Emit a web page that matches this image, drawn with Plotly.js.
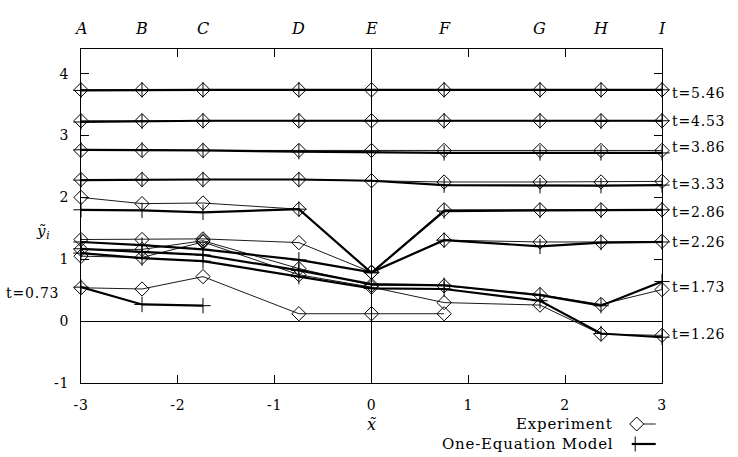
<!DOCTYPE html>
<html>
<head>
<meta charset="utf-8">
<script src="https://cdn.plot.ly/plotly-3.0.1.min.js"></script>
<style>html,body{margin:0;padding:0;background:#fff;} svg text{letter-spacing:0.8px;}</style>
</head>
<body>
<div id="chart" style="width:738px;height:457px;"></div>
<script>
// Station positions along x and their letters
const stations = [-3, -2.37, -1.74, -0.75, 0, 0.75, 1.74, 2.37, 3];
const stationLabels = ['A', 'B', 'C', 'D', 'E', 'F', 'G', 'H', 'I'];

// Time labels
const times = ['5.46', '4.53', '3.86', '3.33', '2.86', '2.26', '1.73', '1.26', '0.73'];
const timeLabelY = [3.69, 3.24, 2.81, 2.22, 1.76, 1.28, 0.56, -0.21, 0.46];

// Experiment (diamonds, thin line)
const exp546 = [3.74, 3.74, 3.74, 3.74, 3.74, 3.74, 3.74, 3.74, 3.74];
const exp453 = [3.24, 3.24, 3.24, 3.24, 3.24, 3.24, 3.24, 3.24, 3.24];
const exp386 = [2.76, 2.76, 2.76, 2.76, 2.76, 2.76, 2.76, 2.76, 2.76];
const exp333 = [2.29, 2.29, 2.29, 2.29, 2.27, 2.25, 2.25, 2.25, 2.26];
const exp286 = [2.0, 1.9, 1.91, 1.81, 0.79, 1.8, 1.8, 1.8, 1.8];
const exp226 = [1.32, 1.32, 1.33, 1.27, 0.79, 1.31, 1.28, 1.28, 1.29];
const exp173 = [1.16, 1.16, 1.30, 0.85, 0.58, 0.57, 0.43, 0.27, 0.51];
const exp126 = [1.05, 1.03, 1.28, 0.75, 0.55, 0.30, 0.26, -0.21, -0.23];
const exp073 = [0.54, 0.52, 0.72, 0.12, 0.12, 0.12, null, null, null];

// One-Equation Model (plus markers, thick line)
const mod546 = [3.73, 3.74, 3.74, 3.74, 3.74, 3.74, 3.74, 3.74, 3.74];
const mod453 = [3.22, 3.23, 3.24, 3.24, 3.24, 3.24, 3.24, 3.23, 3.24];
const mod386 = [2.77, 2.77, 2.76, 2.74, 2.73, 2.72, 2.72, 2.72, 2.72];
const mod333 = [2.28, 2.29, 2.29, 2.29, 2.27, 2.20, 2.19, 2.19, 2.20];
const mod286 = [1.8, 1.79, 1.76, 1.81, 0.78, 1.78, 1.79, 1.79, 1.8];
const mod226 = [1.28, 1.23, 1.16, 0.99, 0.79, 1.31, 1.21, 1.27, 1.28];
const mod173 = [1.17, 1.12, 1.07, 0.82, 0.60, 0.58, 0.42, 0.25, 0.64];
const mod126 = [1.10, 1.02, 0.97, 0.72, 0.53, 0.52, 0.33, -0.20, -0.26];
const mod073 = [0.55, 0.27, 0.25, null, null, null, null, null, null];

const expSeries = [exp546, exp453, exp386, exp333, exp286, exp226, exp173, exp126, exp073];
const modSeries = [mod546, mod453, mod386, mod333, mod286, mod226, mod173, mod126, mod073];

const xTickVals = [-3, -2, -1, 0, 1, 2, 3];
const xTickText = ['-3', '-2', '-1', '0', '1', '2', '3'];
const yTickVals = [-1, 0, 1, 2, 3, 4];
const yTickText = ['-1', '0', '1', '2', '3', '4'];

const legendNames = ['Experiment', 'One-Equation Model'];

const serif = 'DejaVu Serif, Liberation Serif, serif';

const traces = [];
modSeries.forEach((ys, i) => {
  traces.push({
    x: stations, y: ys, type: 'scatter', mode: 'lines+markers',
    name: legendNames[1] + ' t=' + times[i], showlegend: false, cliponaxis: false,
    line: {color: '#000', width: 2.2},
    marker: {symbol: 'cross-thin-open', size: 11, color: '#000', line: {color: '#000', width: 1}}
  });
});
expSeries.forEach((ys, i) => {
  traces.push({
    x: stations, y: ys, type: 'scatter', mode: 'lines+markers',
    name: legendNames[0] + ' t=' + times[i], showlegend: false, cliponaxis: false,
    line: {color: '#000', width: 0.9},
    marker: {symbol: 'diamond-open', size: 11, color: '#000', line: {color: '#000', width: 1}}
  });
});

const annotations = [];
stations.forEach((sx, i) => {
  annotations.push({x: sx, xref: 'x', y: 1.096, yref: 'paper', text: '<i>' + stationLabels[i] + '</i>',
    showarrow: false, font: {family: serif, size: 16, color: '#000'}});
});
times.forEach((t, i) => {
  const left = (t === '0.73');
  annotations.push({
    x: left ? -0.034 : 1.013, xref: 'paper', y: timeLabelY[i], yref: 'y',
    xanchor: left ? 'right' : 'left', text: 't=' + t, showarrow: false,
    font: {family: serif, size: 14, color: '#000'}
  });
});
annotations.push({x: -0.05, xref: 'paper', y: 1.45, yref: 'y', xanchor: 'right',
  text: '<i>ỹ</i><sub><i>i</i></sub>', showarrow: false, font: {family: serif, size: 15, color: '#000'}});
annotations.push({x: 0, xref: 'x', y: -0.158, yref: 'paper', text: '<i>x̃</i>', showarrow: false,
  font: {family: serif, size: 16, color: '#000'}});

// legend (text left of key, as in the reference)
const legY = [-0.1228, -0.1826];
const legKeyX = 0.9565;
legendNames.forEach((nm, i) => {
  annotations.push({x: 0.919, xref: 'paper', y: legY[i], yref: 'paper', xanchor: 'right', yanchor: 'middle',
    text: nm, showarrow: false, font: {family: serif, size: 15, color: '#000'}});
});
const shapes = [
  {type: 'line', xref: 'paper', yref: 'paper', xsizemode: 'pixel', ysizemode: 'pixel',
   xanchor: legKeyX, yanchor: legY[0], x0: 0, x1: 19, y0: 0, y1: 0, line: {color: '#000', width: 0.9}},
  {type: 'path', xref: 'paper', yref: 'paper', xsizemode: 'pixel', ysizemode: 'pixel',
   xanchor: legKeyX, yanchor: legY[0], path: 'M -7 0 L 0 7 L 7 0 L 0 -7 Z',
   fillcolor: '#fff', line: {color: '#000', width: 1}},
  {type: 'line', xref: 'paper', yref: 'paper', xsizemode: 'pixel', ysizemode: 'pixel',
   xanchor: legKeyX, yanchor: legY[1], x0: -5, x1: 19, y0: 0, y1: 0, line: {color: '#000', width: 2.2}},
  {type: 'line', xref: 'paper', yref: 'paper', xsizemode: 'pixel', ysizemode: 'pixel',
   xanchor: legKeyX, yanchor: legY[1], x0: -1.5, x1: -1.5, y0: -7.5, y1: 7.5, line: {color: '#000', width: 1}}
];

const layout = {
  width: 738, height: 457,
  margin: {l: 81, r: 76, t: 49, b: 74},
  paper_bgcolor: '#fff', plot_bgcolor: '#fff',
  font: {family: serif, size: 14, color: '#000'},
  showlegend: false,
  xaxis: {range: [-3, 3], showgrid: false, zeroline: true, zerolinecolor: '#000', zerolinewidth: 1,
    showline: true, linecolor: '#000', linewidth: 1, mirror: 'ticks', ticks: 'inside', ticklen: 8,
    tickcolor: '#000', tickvals: xTickVals, ticktext: xTickText, ticklabelstandoff: 9,
    tickfont: {family: serif, size: 14}},
  yaxis: {range: [-1, 4.4], showgrid: false, zeroline: true, zerolinecolor: '#000', zerolinewidth: 1,
    showline: true, linecolor: '#000', linewidth: 1, mirror: 'ticks', ticks: 'inside', ticklen: 8,
    tickcolor: '#000', tickvals: yTickVals, ticktext: yTickText, ticklabelstandoff: 8,
    tickfont: {family: serif, size: 14}},
  annotations: annotations,
  shapes: shapes
};

Plotly.newPlot('chart', traces, layout, {displayModeBar: false, staticPlot: true});
</script>
</body>
</html>
